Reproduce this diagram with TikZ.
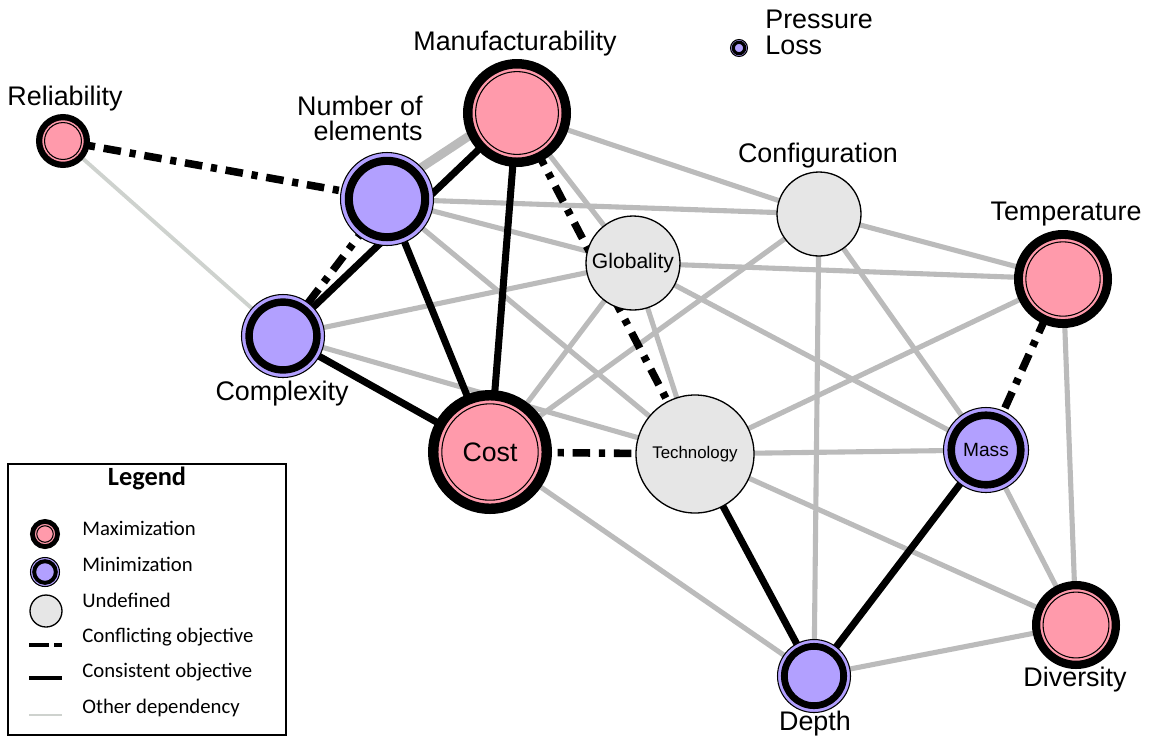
\documentclass[tikz,border=0pt]{standalone}
\usepackage{fontspec}
\setmainfont{Liberation Sans}
\newfontfamily\legendfont{Carlito}
\usetikzlibrary{backgrounds}

\definecolor{maxpink}{RGB}{255,154,171}
\definecolor{minpurple}{RGB}{178,160,255}
\definecolor{undefgray}{RGB}{230,230,230}
\definecolor{linegray}{RGB}{187,187,187}
\definecolor{faintgray}{RGB}{206,210,206}

\begin{document}
\begin{tikzpicture}[
    x=0.02cm, y=-0.02cm,
    lbl/.style={inner sep=0pt, font=\fontsize{15.3}{18}\selectfont},
    maxobj/.style={circle, inner sep=0pt, fill=maxpink, draw=black,
        line width={(3+0.12*#1)*0.02cm}, minimum size={(1.88*#1-3)*0.02cm},
        path picture={\draw[black, line width=0.6pt] (path picture bounding box.center) circle[radius={(0.85*#1-4.5)*0.02cm}];}},
    minobj/.style={circle, inner sep=0pt, fill=minpurple, draw=black,
        line width=0.6pt, minimum size={(2*#1-1)*0.02cm},
        path picture={\draw[black, line width={(2+0.13*#1)*0.02cm}] (path picture bounding box.center) circle[radius={(0.855*#1-2)*0.02cm}];}},
    undefobj/.style={circle, inner sep=0pt, fill=undefgray, draw=black,
        line width=0.75pt, minimum size={2*#1*0.02cm}},
    other/.style={draw=linegray, line width=2.9pt},
    faint/.style={draw=faintgray, line width=2.2pt},
    consistent/.style={draw=black, line width=4pt},
    conflict/.style={draw=black, line width=4.3pt, dash pattern=on 10pt off 5pt on 3.5pt off 5pt},
    legtext/.style={anchor=west, inner sep=0pt, font=\legendfont\fontsize{11.8}{14}\selectfont}
]
    \useasboundingbox (0,0) rectangle (1153,745);

    % Objectives
    \node[maxobj=27] (rel) at (63,141) {};
    \node[minobj=47] (noe) at (387,199) {};
    \node[maxobj=54] (manu) at (517,113) {};
    \node[undefobj=42] (config) at (819,214) {};
    \node[undefobj=47, font=\fontsize{12}{14}\selectfont] (glob) at (633,263) {Globality};
    \node[maxobj=49] (temp) at (1063,279) {};
    \node[minobj=42] (cplx) at (283,336) {};
    \node[maxobj=62, font=\fontsize{15.2}{18}\selectfont] (cost) at (490,452) {Cost};
    \node[undefobj=59, font=\fontsize{9.6}{12}\selectfont] (tech) at (695,454) {Technology};
    \node[minobj=43, font=\fontsize{10.9}{13}\selectfont] (mass) at (986,450) {Mass};
    \node[maxobj=44] (div) at (1076,625) {};
    \node[minobj=37] (depth) at (814,676) {};
    \node[minobj=9] (ploss) at (739,48) {};

    % Labels
    \node[lbl] (rel-l) at (65,99) {Reliability};
    \node[lbl, align=right, anchor=east, font=\fontsize{15.3}{14.2}\selectfont] (noe-l) at (423,118) {Number of\\elements};
    \node[lbl] (manu-l) at (515,44) {Manufacturability};
    \node[lbl] (config-l) at (818,156) {Configuration};
    \node[lbl] (temp-l) at (1066,214) {Temperature};
    \node[lbl] (cplx-l) at (282,394) {Complexity};
    \node[lbl] (div-l) at (1075,680) {Diversity};
    \node[lbl] (depth-l) at (815,724) {Depth};
    \node[lbl, align=left, anchor=west, font=\fontsize{15.3}{14.8}\selectfont] (ploss-l) at (765,32) {Pressure\\Loss};

    \begin{scope}[on background layer]
        % Other dependencies
        \draw[faint] (rel.center) -- (cplx.center);
        \draw[other, line width=5pt] ([yshift=5pt]noe.center) -- ([yshift=5pt]manu.center);
        \draw[other] (manu.center) -- (config.center);
        \draw[other] (manu.center) -- (glob.center);
        \draw[other] (noe.center) -- (config.center);
        \draw[other] (noe.center) -- (glob.center);
        \draw[other] (noe.center) -- (tech.center);
        \draw[other] (cplx.center) -- (glob.center);
        \draw[other] (cplx.center) -- (tech.center);
        \draw[other] (cost.center) -- (glob.center);
        \draw[other] (cost.center) -- (config.center);
        \draw[other] (cost.center) -- (depth.center);
        \draw[other] (glob.center) -- (tech.center);
        \draw[other] (glob.center) -- (temp.center);
        \draw[other] (glob.center) -- (mass.center);
        \draw[other] (config.center) -- (temp.center);
        \draw[other] (config.center) -- (mass.center);
        \draw[other] (config.center) -- (depth.center);
        \draw[other] (tech.center) -- (temp.center);
        \draw[other] (tech.center) -- (mass.center);
        \draw[other] (tech.center) -- (div.center);
        \draw[other] (mass.center) -- (div.center);
        \draw[other] (temp.center) -- (div.center);
        \draw[other] (depth.center) -- (div.center);

        % Consistent objectives
        \draw[consistent] (cplx.center) -- (manu.center);
        \draw[consistent] (noe.center) -- (cost.center);
        \draw[consistent] (manu.center) -- (cost.center);
        \draw[consistent] (cplx.center) -- (cost.center);
        \draw[consistent] (tech.center) -- (depth.center);
        \draw[consistent] (mass.center) -- (depth.center);

        % Conflicting objectives
        \draw[conflict] (rel.center) -- (noe.center);
        \draw[conflict] (cplx.center) -- (noe.center);
        \draw[conflict] (manu.center) -- (tech.center);
        \draw[conflict] (cost.center) -- (tech.center);
        \draw[conflict] (temp.center) -- (mass.center);
    \end{scope}

    % Legend
    \node[draw, line width=1.1pt, minimum width=5.56cm, minimum height=5.42cm, inner sep=0pt] (legend) at (147,599.5) {};
    \node[inner sep=0pt, font=\legendfont\bfseries\fontsize{15}{18}\selectfont] (legend-t) at (147,478) {Legend};
    \node[maxobj=15] (lg-max) at (45,534) {};
    \node[minobj=15] (lg-min) at (45,572) {};
    \node[undefobj=16] (lg-undef) at (46,611) {};
    \coordinate (lg-conf-a) at (29,645);
    \coordinate (lg-conf-b) at (62,645);
    \coordinate (lg-cons-a) at (29,678);
    \coordinate (lg-cons-b) at (62,678);
    \coordinate (lg-oth-a) at (29,715);
    \coordinate (lg-oth-b) at (62,715);
    \draw[line width=2.4pt, dash pattern=on 11.5pt off 2.8pt] (lg-conf-a) -- (lg-conf-b);
    \draw[line width=2.6pt] (lg-cons-a) -- (lg-cons-b);
    \draw[faint, line width=0.9pt] (lg-oth-a) -- (lg-oth-b);
    \node[legtext] (lg-max-t) at (82,528) {Maximization};
    \node[legtext] (lg-min-t) at (82,564) {Minimization};
    \node[legtext] (lg-undef-t) at (82,600) {Undefined};
    \node[legtext] (lg-conf-t) at (82,637) {Conflicting objective};
    \node[legtext] (lg-cons-t) at (82,672) {Consistent objective};
    \node[legtext] (lg-oth-t) at (82,708) {Other dependency};

\end{tikzpicture}
\end{document}
